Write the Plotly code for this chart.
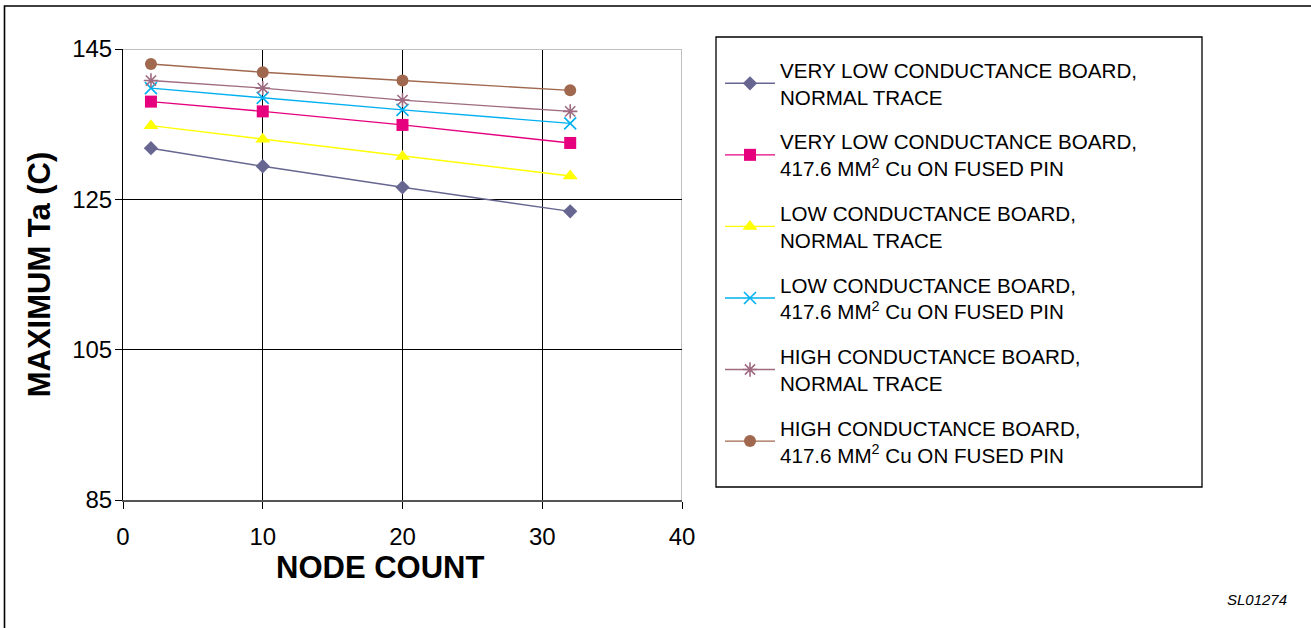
import plotly.graph_objects as go

node_count = [2, 10, 20, 32]

series_names = [
    "VERY LOW CONDUCTANCE BOARD,<br>NORMAL TRACE",
    "VERY LOW CONDUCTANCE BOARD,<br>417.6 MM<sup>2</sup> Cu ON FUSED PIN",
    "LOW CONDUCTANCE BOARD,<br>NORMAL TRACE",
    "LOW CONDUCTANCE BOARD,<br>417.6 MM<sup>2</sup> Cu ON FUSED PIN",
    "HIGH CONDUCTANCE BOARD,<br>NORMAL TRACE",
    "HIGH CONDUCTANCE BOARD,<br>417.6 MM<sup>2</sup> Cu ON FUSED PIN",
]

very_low_normal = [131.8, 129.4, 126.6, 123.4]
very_low_fused = [138.0, 136.7, 134.9, 132.5]
low_normal = [134.8, 133.0, 130.7, 128.1]
low_fused = [139.8, 138.5, 136.9, 135.1]
high_normal = [140.8, 139.8, 138.2, 136.7]
high_fused = [143.0, 141.9, 140.8, 139.5]

series_values = [very_low_normal, very_low_fused, low_normal, low_fused, high_normal, high_fused]

y_ticks = [85, 105, 125, 145]
x_ticks = [0, 10, 20, 30, 40]

styles = [
    dict(color="#666691", symbol="diamond", size=11, lw=0),
    dict(color="#E6007E", symbol="square", size=12, lw=0),
    dict(color="#FFFF00", symbol="triangle-up", size=13, lw=0),
    dict(color="#00B0F0", symbol="x-thin-open", size=12, lw=1.6),
    dict(color="#9E6B80", symbol="asterisk-open", size=12, lw=1.6),
    dict(color="#A0684E", symbol="circle", size=12, lw=0),
]

FONT = "Liberation Sans, Arial, Helvetica, sans-serif"

fig = go.Figure()
for i, (name, vals, st) in enumerate(zip(series_names, series_values, styles)):
    marker = dict(color=st["color"], symbol=st["symbol"], size=st["size"])
    if st["lw"]:
        marker["line"] = dict(color=st["color"], width=st["lw"])
    fig.add_trace(go.Scatter(
        x=node_count, y=vals, name=name, mode="lines+markers",
        line=dict(color=st["color"], width=1.4),
        marker=marker, legendgroup=f"g{i}",
    ))

L, R, T, B = 123, 682, 49, 500
W, H = 1311, 628
pw, ph = R - L, B - T

def px(xp):
    return (xp - L) / pw

def py(yp):
    return (B - yp) / ph

fig.update_layout(
    width=W, height=H,
    margin=dict(l=L, r=W - R, t=T, b=H - B, pad=0),
    paper_bgcolor="white", plot_bgcolor="white",
    font=dict(family=FONT, color="black"),
    showlegend=True,
    legend=dict(
        x=px(720), y=py(50), xanchor="left", yanchor="top",
        bgcolor="rgba(0,0,0,0)", borderwidth=0,
        font=dict(size=20.6, family=FONT, color="black"),
        tracegroupgap=15, itemwidth=50, valign="middle",
    ),
    xaxis=dict(
        range=[0, 40], tickvals=x_ticks, ticktext=[str(v) for v in x_ticks],
        showgrid=True, gridcolor="#000000", gridwidth=1,
        showline=True, linecolor="#555555", linewidth=2,
        ticks="outside", ticklen=7, tickcolor="#000000", tickwidth=1,
        tickfont=dict(size=24, family=FONT), ticklabelstandoff=7,
        zeroline=False, fixedrange=True,
    ),
    yaxis=dict(
        range=[85, 145], tickvals=y_ticks, ticktext=[str(v) for v in y_ticks],
        showgrid=True, gridcolor="#000000", gridwidth=1,
        showline=True, linecolor="#000000", linewidth=1,
        ticks="outside", ticklen=7, tickcolor="#000000", tickwidth=1,
        tickfont=dict(size=24, family=FONT), ticklabelstandoff=-2,
        zeroline=False, fixedrange=True,
        title=dict(text="<b>MAXIMUM Ta (C)</b>", font=dict(size=31, family=FONT), standoff=12),
    ),
    shapes=[
        # gray top and right plot borders
        dict(type="line", xref="x", yref="y", x0=0, x1=40, y0=145, y1=145,
             line=dict(color="#C0C0C0", width=2), layer="above"),
        dict(type="line", xref="x", yref="y", x0=40, x1=40, y0=85, y1=145,
             line=dict(color="#C0C0C0", width=2), layer="below"),
        # legend frame
        dict(type="rect", xref="paper", yref="paper",
             x0=px(716), x1=px(1202), y0=py(487), y1=py(37),
             line=dict(color="black", width=1.3), fillcolor="rgba(0,0,0,0)", layer="below"),
        # outer figure frame (top & left visible)
        dict(type="rect", xref="paper", yref="paper",
             x0=px(4.5), x1=px(1320), y0=py(640), y1=py(6),
             line=dict(color="black", width=1.6), fillcolor="rgba(0,0,0,0)", layer="below"),
    ],
    annotations=[
        dict(text="<b>NODE COUNT</b>", xref="paper", yref="paper",
             x=px(380), y=py(567), xanchor="center", yanchor="middle",
             showarrow=False, font=dict(size=31, family=FONT, color="black")),
        dict(text="<i>SL01274</i>", xref="paper", yref="paper",
             x=px(1257), y=py(599), xanchor="center", yanchor="middle",
             showarrow=False, font=dict(size=15, family=FONT, color="black")),
    ],
)

fig.write_html(
    "out.html",
    config={"displayModeBar": False},
    post_script="document.body.style.margin='0';document.body.style.overflow='hidden';",
)
